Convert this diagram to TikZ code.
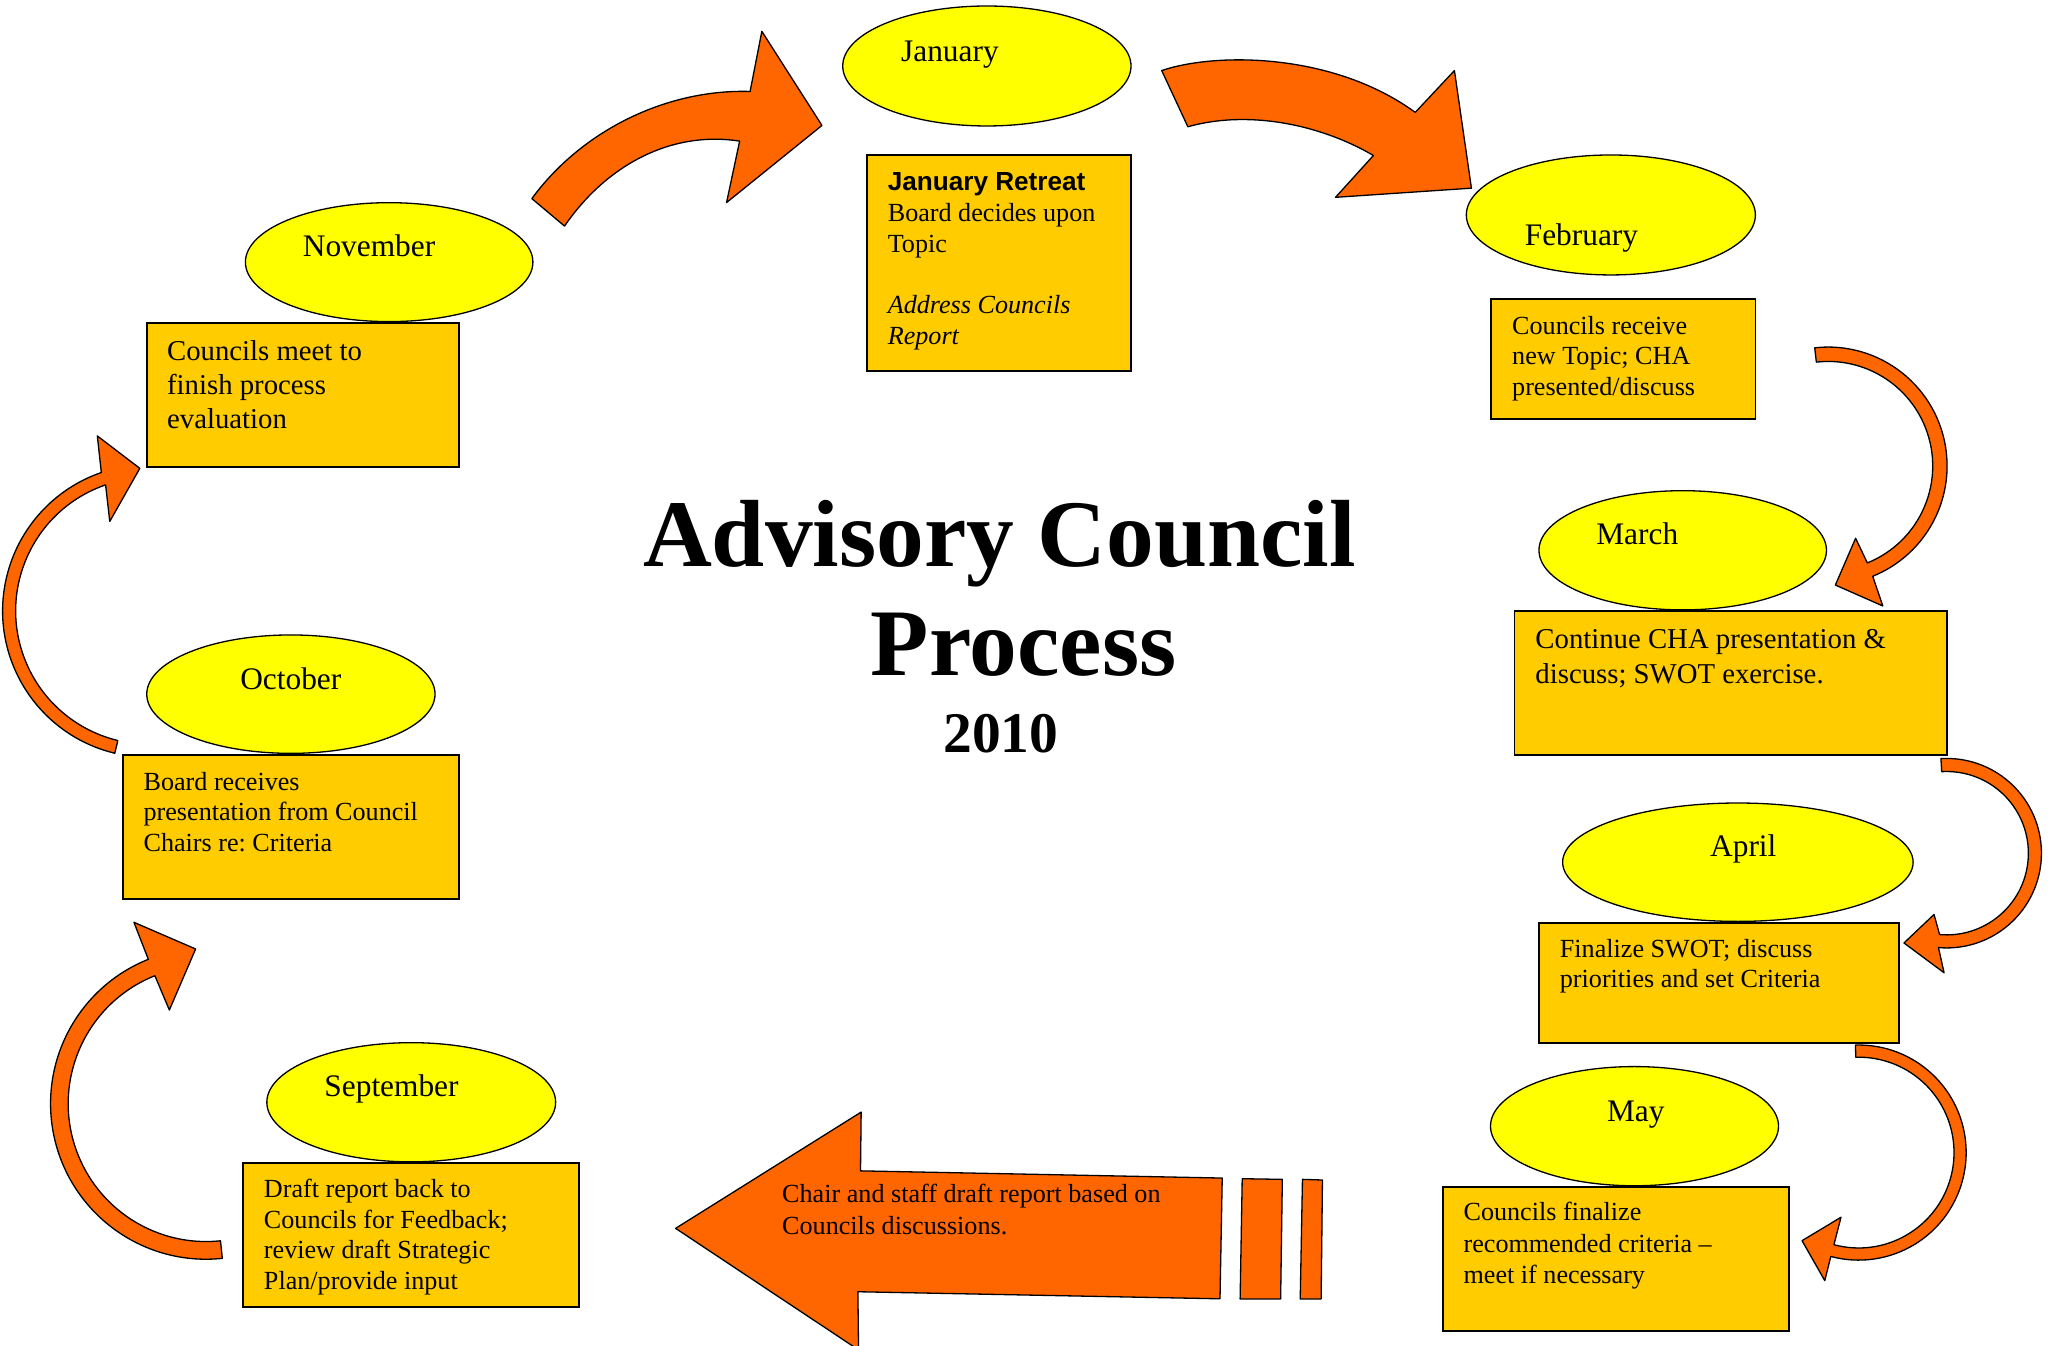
\documentclass[tikz,border=0pt]{standalone}
\usepackage{fontspec}
\setmainfont{Liberation Serif}
\newfontfamily\arialfont{Liberation Sans}
\usetikzlibrary{shapes.geometric,calc}
\definecolor{monthyellow}{HTML}{FFFF00}
\definecolor{boxgold}{HTML}{FFCC00}
\definecolor{arroworange}{HTML}{FF6600}
\newcommand\mytopstrut{\rule{0pt}{0.8em}}
\frenchspacing
\begin{document}
\begin{tikzpicture}[x=1pt,y=-1pt,
  month/.style={ellipse, draw=black, line width=1pt, fill=monthyellow, inner sep=0pt},
  infobox/.style={rectangle, draw=black, line width=1.4pt, fill=boxgold, inner sep=0pt},
  mtext/.style={anchor=base west, inner sep=0pt, font=\fontsize{24}{28}\selectfont},
  btext/.style={anchor=north west, inner sep=0pt, align=left, font=\fontsize{20}{23.5}\selectfont},
  bigtext/.style={anchor=north west, inner sep=0pt, align=left, font=\fontsize{22}{26.2}\selectfont},
  blockarrow/.style={draw=black, line width=1pt, fill=arroworange, line join=round},
  titletext/.style={anchor=base, inner sep=0pt, font=\fontsize{73}{80}\selectfont\bfseries}]
\useasboundingbox (0,0) rectangle (1568,1030);

% ---------- block arrows ----------
% November -> January
\path[blockarrow] (407,152) .. controls (445,100) and (510,68) .. (574,70) -- (583,24) -- (629,96) -- (556,155) -- (566,108) .. controls (515,100) and (465,125) .. (432,173) -- cycle;
% January -> February
\path[blockarrow] (889,54) .. controls (930,40) and (1020,40) .. (1083,86) -- (1113,54) -- (1126,144) -- (1022,151) -- (1051,119) .. controls (1010,95) and (955,84) .. (909,97) -- cycle;
% February -> March
\coordinate (c3) at (1399,356.6);
\path[blockarrow] ($(c3)+(-96.5:91)$) arc[start angle=-96.5, end angle=68, radius=91] -- (1440.8,463.7) -- (1404.5,447.7) -- (1420,411.9) -- ($(c3)+(68:80)$) arc[start angle=68, end angle=-96.5, radius=80] -- cycle;
% March -> April
\coordinate (c4) at (1489.7,652.9);
\path[blockarrow] ($(c4)+(-93.5:72.5)$) arc[start angle=-93.5, end angle=95, radius=72.5] -- (1487.7,744.4) -- (1457,721.6) -- (1480,699.8) -- ($(c4)+(95:62.5)$) arc[start angle=95, end angle=-93.5, radius=62.5] -- cycle;
% April -> May
\coordinate (c5) at (1422.3,882);
\path[blockarrow] ($(c5)+(-91.7:82.3)$) arc[start angle=-91.7, end angle=105, radius=82.3] -- (1396.4,980) -- (1379,949.4) -- (1408.8,931.5) -- ($(c5)+(105:73)$) arc[start angle=105, end angle=-91.7, radius=73] -- cycle;
% September -> October
\coordinate (c7) at (157.7,844.6);
\path[blockarrow] ($(c7)+(84:119)$) arc[start angle=84, end angle=248.2, radius=119] -- (102.5,705.8) -- (149.7,726.2) -- (129.6,772.9) -- ($(c7)+(248.2:105.5)$) arc[start angle=248.2, end angle=84, radius=105.5] -- cycle;
% October -> November
\coordinate (c8) at (114,467.5);
\path[blockarrow] ($(c8)+(103.5:112)$) arc[start angle=103.5, end angle=251, radius=112] -- (74.5,333.6) -- (107,358.4) -- (84,399) -- ($(c8)+(251:102)$) arc[start angle=251, end angle=103.5, radius=102] -- cycle;
% big left arrow (May -> September)
\path[blockarrow] (517,940) -- (659,851) -- (658.5,896) -- (935.3,901.5) -- (933.6,993.9) -- (656.5,988.5) -- (657,1033) -- cycle;
\path[blockarrow] (950.6,902) -- (981.3,902.5) -- (980,994) -- (949,994) -- cycle;
\path[blockarrow] (996.7,902.5) -- (1012,903) -- (1011,994) -- (995,994) -- cycle;
\node[btext, font=\fontsize{20}{24}\selectfont] (augT) at (598.4,904.3) {\mytopstrut Chair and staff draft report based on\\Councils discussions.};

% ---------- month ellipses ----------
\node[month, minimum width=220.6pt, minimum height=91.8pt] (janE) at (755.2,50.5) {};
\node[month, minimum width=221.2pt, minimum height=91.8pt] (febE) at (1232.7,164.5) {};
\node[month, minimum width=220pt, minimum height=91.2pt] (marE) at (1287.7,421.1) {};
\node[month, minimum width=268.2pt, minimum height=90.6pt] (aprE) at (1329.9,659.8) {};
\node[month, minimum width=220.4pt, minimum height=91.2pt] (mayE) at (1250.8,861.8) {};
\node[month, minimum width=221pt, minimum height=91.2pt] (sepE) at (314.7,843.5) {};
\node[month, minimum width=220.6pt, minimum height=90.6pt] (octE) at (222.6,531.2) {};
\node[month, minimum width=220pt, minimum height=91pt] (novE) at (297.8,200.6) {};

\node[mtext] (janL) at (689.4,47.2) {January};
\node[mtext] (febL) at (1166.7,188.2) {February};
\node[mtext] (marL) at (1221.4,417) {March};
\node[mtext] (aprL) at (1308.5,655.8) {April};
\node[mtext] (mayL) at (1229.6,858.3) {May};
\node[mtext] (sepL) at (248.1,839.2) {September};
\node[mtext] (octL) at (183.7,527.5) {October};
\node[mtext] (novL) at (231.6,196.4) {November};

% ---------- boxes ----------
\node[infobox, minimum width=202.1pt, minimum height=165pt] (janB) at (764.4,201.1) {};
\node[infobox, minimum width=202.1pt, minimum height=91.8pt] (febB) at (1242.3,274.7) {};
\node[infobox, minimum width=330.8pt, minimum height=110.2pt] (marB) at (1324.4,522.5) {};
\node[infobox, minimum width=275.6pt, minimum height=91.5pt] (aprB) at (1315.5,752.2) {};
\node[infobox, minimum width=264.4pt, minimum height=110.2pt] (mayB) at (1236.5,963.2) {};
\node[infobox, minimum width=257.4pt, minimum height=109.7pt] (sepB) at (314.5,945.1) {};
\node[infobox, minimum width=257.6pt, minimum height=110.1pt] (octB) at (222.7,632.9) {};
\node[infobox, minimum width=238.5pt, minimum height=110.2pt] (novB) at (231.8,302) {};

\node[btext] (janT) at (679.2,129.9) {\mytopstrut{\arialfont\bfseries January Retreat}\\Board decides upon\\Topic\\[23.5pt]\textit{Address Councils}\\\textit{Report}};
\node[btext] (febT) at (1157,239.6) {\mytopstrut Councils receive\\new Topic; CHA\\presented/discuss};
\node[bigtext] (marT) at (1174.8,478.8) {\mytopstrut Continue CHA presentation \&\\discuss; SWOT exercise.};
\node[btext, font=\fontsize{20}{23}\selectfont] (aprT) at (1193.5,716.7) {\mytopstrut Finalize SWOT; discuss\\priorities and set Criteria};
\node[btext, font=\fontsize{20}{24}\selectfont] (mayT) at (1119.8,918.1) {\mytopstrut Councils finalize\\recommended criteria --\\meet if necessary};
\node[btext, font=\fontsize{20}{23.4}\selectfont] (sepT) at (201.8,900.2) {\mytopstrut Draft report back to\\Councils for Feedback;\\review draft Strategic\\Plan/provide input};
\node[btext] (octT) at (109.7,588.5) {\mytopstrut Board receives\\presentation from Council\\Chairs re: Criteria};
\node[bigtext, font=\fontsize{22}{26}\selectfont] (novT) at (127.7,257.9) {\mytopstrut Councils meet to\\finish process\\evaluation};

% ---------- title ----------
\node[titletext] (title1) at (764.9,433.6) {Advisory Council};
\node[titletext] (title2) at (783.4,517.3) {Process};
\node[titletext, font=\fontsize{44}{50}\selectfont\bfseries] (year) at (765.9,576) {2010};
\end{tikzpicture}
\end{document}
